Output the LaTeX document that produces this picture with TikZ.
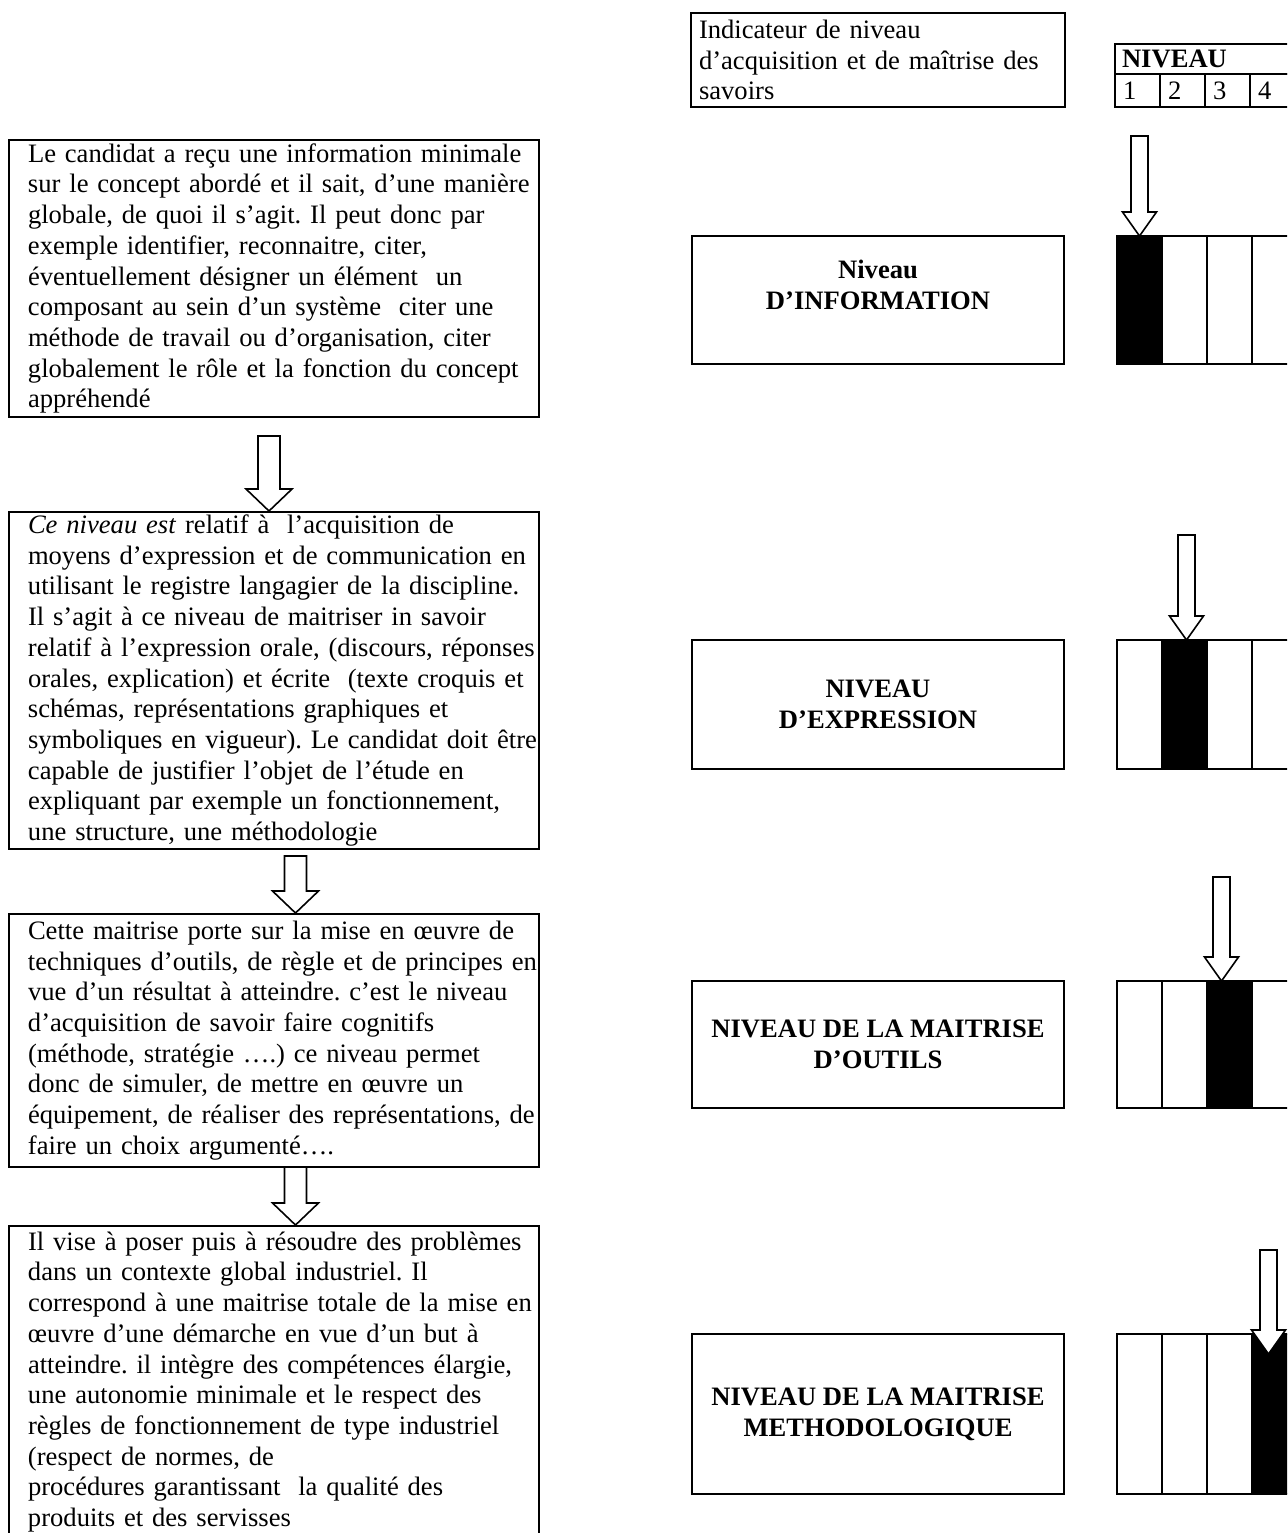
\documentclass[tikz,border=0pt]{standalone}
\usepackage{fontspec}
\setmainfont{Liberation Serif}
\usepackage{tikz}
\usetikzlibrary{positioning}
\tikzstyle{leftbox} = [rectangle, draw=black, line width=1pt, text width=265pt, inner xsep=0pt, inner ysep=1pt, align=left, execute at begin node={\leftskip=9.5pt\rightskip=-8pt plus 2em}]
\tikzstyle{levelbox} = [rectangle, draw=black, line width=1pt, minimum width=186pt, align=center, font=\fontsize{13.3}{15.35}\selectfont\bfseries]
\tikzstyle{titlebox} = [rectangle, draw=black, line width=1pt, text width=179pt, inner xsep=4pt, inner ysep=1pt, minimum height=47pt, align=left]
\tikzstyle{headcell} = [rectangle, draw=black, line width=1pt, minimum height=15pt, text width=83pt, inner xsep=3.5pt, inner ysep=0pt, outer sep=0pt, align=left, font=\fontsize{13.3}{15.35}\selectfont\bfseries]
\tikzstyle{numcell} = [rectangle, draw=black, line width=1pt, minimum height=16.5pt, text width=14.5pt, inner xsep=4pt, inner ysep=0pt, outer sep=0pt, align=left]
\tikzstyle{cell} = [rectangle, draw=black, line width=1pt, minimum width=22.5pt, inner sep=0pt, outer sep=0pt]
\tikzstyle{bigarrow} = [draw=black, fill=white, line width=0.8pt, line join=miter]

\begin{document}
\frenchspacing
\begin{tikzpicture}[x=1pt, y=1pt, font=\fontsize{13.3}{15.35}\selectfont]
	\useasboundingbox (0,0) rectangle (643.5,-766.5);
	\clip (0,0) rectangle (643.5,-766.5);
	% left column
	\node (l1) [leftbox, minimum height=138.5pt, anchor=north west] at (4,-69.5) {Le candidat a reçu une information minimale\\sur le concept abordé et il sait, d’une manière\\globale, de quoi il s’agit. Il peut donc par\\exemple identifier, reconnaitre, citer,\\éventuellement désigner un élément\ \ un\\composant au sein d’un système\ \ citer une\\méthode de travail ou d’organisation, citer\\globalement le rôle et la fonction du concept\\appréhendé};
	\node (l2) [leftbox, minimum height=168.5pt, below=46.5pt of l1] {\textit{Ce niveau est} relatif à\ \ l’acquisition de\\moyens d’expression et de communication en\\utilisant le registre langagier de la discipline.\\Il s’agit à ce niveau de maitriser in savoir\\relatif à l’expression orale, (discours, réponses\\orales, explication) et écrite\ \ (texte croquis et\\schémas, représentations graphiques et\\symboliques en vigueur). Le candidat doit être\\capable de justifier l’objet de l’étude en\\expliquant par exemple un fonctionnement,\\une structure, une méthodologie};
	\node (l3) [leftbox, minimum height=126.5pt, below=31.5pt of l2] {Cette maitrise porte sur la mise en œuvre de\\techniques d’outils, de règle et de principes en\\vue d’un résultat à atteindre. c’est le niveau\\d’acquisition de savoir faire cognitifs\\(méthode, stratégie ….) ce niveau permet\\donc de simuler, de mettre en œuvre un\\équipement, de réaliser des représentations, de\\faire un choix argumenté….};
	\node (l4) [leftbox, minimum height=156pt, below=28.5pt of l3] {Il vise à poser puis à résoudre des problèmes\\dans un contexte global industriel. Il\\correspond à une maitrise totale de la mise en\\œuvre d’une démarche en vue d’un but à\\atteindre. il intègre des compétences élargie,\\une autonomie minimale et le respect des\\règles de fonctionnement de type industriel\\(respect de normes, de\\procédures garantissant\ \ la qualité des\\produits et des servisses};
	% middle column
	\node (ind) [titlebox, anchor=north west] at (345,-6) {Indicateur de niveau\\d’acquisition et de maîtrise des\\savoirs};
	\node (m1) [levelbox, minimum height=64pt, anchor=north west] at (345.5,-117.5) {Niveau\\D’INFORMATION\\\mbox{}};
	\node (m2) [levelbox, minimum height=64.5pt, below=137pt of m1] {NIVEAU\\D’EXPRESSION};
	\node (m3) [levelbox, minimum height=63.5pt, below=105pt of m2] {NIVEAU DE LA MAITRISE\\D’OUTILS};
	\node (m4) [levelbox, minimum height=80pt, below=112pt of m3] {NIVEAU DE LA MAITRISE\\METHODOLOGIQUE};
	% niveau table
	\node (th) [headcell, anchor=north west] at (557.5,-22) {NIVEAU};
	\node (n1) [numcell, below right=0pt of th.south west] {1};
	\node (n2) [numcell, right=0pt of n1] {2};
	\node (n3) [numcell, right=0pt of n2] {3};
	\node (n4) [numcell, right=0pt of n3] {4};
	% bars
	\node (b1a) [cell, minimum height=64pt, fill=black, right=26pt of m1] {};
	\node (b1b) [cell, minimum height=64pt, right=0pt of b1a] {};
	\node (b1c) [cell, minimum height=64pt, right=0pt of b1b] {};
	\node (b1d) [cell, minimum height=64pt, right=0pt of b1c] {};
	\node (b2a) [cell, minimum height=64.5pt, right=26pt of m2] {};
	\node (b2b) [cell, minimum height=64.5pt, fill=black, right=0pt of b2a] {};
	\node (b2c) [cell, minimum height=64.5pt, right=0pt of b2b] {};
	\node (b2d) [cell, minimum height=64.5pt, right=0pt of b2c] {};
	\node (b3a) [cell, minimum height=63.5pt, right=26pt of m3] {};
	\node (b3b) [cell, minimum height=63.5pt, right=0pt of b3a] {};
	\node (b3c) [cell, minimum height=63.5pt, fill=black, right=0pt of b3b] {};
	\node (b3d) [cell, minimum height=63.5pt, right=0pt of b3c] {};
	\node (b4a) [cell, minimum height=80pt, right=26pt of m4] {};
	\node (b4b) [cell, minimum height=80pt, right=0pt of b4a] {};
	\node (b4c) [cell, minimum height=80pt, right=0pt of b4b] {};
	\node (b4d) [cell, minimum height=80pt, fill=black, right=0pt of b4c] {};
	% block arrows
	\draw [bigarrow] ([xshift=-2.5pt]l2.north) -- ++(-11.5,11) -- ++(6,0) -- ++(0,26.5) -- ++(11,0) -- ++(0,-26.5) -- ++(6,0) -- cycle;
	\draw [bigarrow] ([xshift=10.75pt]l3.north) -- ++(-11.5,11) -- ++(6,0) -- ++(0,17.5) -- ++(11,0) -- ++(0,-17.5) -- ++(6,0) -- cycle;
	\draw [bigarrow] ([xshift=10.75pt]l4.north) -- ++(-11.5,11) -- ++(6,0) -- ++(0,18) -- ++(11,0) -- ++(0,-18) -- ++(6,0) -- cycle;
	\draw [bigarrow] (b1a.north) -- ++(-8.5,12) -- ++(4.25,0) -- ++(0,38) -- ++(8.5,0) -- ++(0,-38) -- ++(4.25,0) -- cycle;
	\draw [bigarrow] ([xshift=1pt]b2b.north) -- ++(-8.5,12) -- ++(4.25,0) -- ++(0,40.5) -- ++(8.5,0) -- ++(0,-40.5) -- ++(4.25,0) -- cycle;
	\draw [bigarrow] ([xshift=-4pt]b3c.north) -- ++(-8.5,12) -- ++(4.25,0) -- ++(0,40) -- ++(8.5,0) -- ++(0,-40) -- ++(4.25,0) -- cycle;
	\draw [bigarrow] ([xshift=-3pt,yshift=-10pt]b4d.north) -- ++(-8.5,12) -- ++(4.25,0) -- ++(0,40) -- ++(8.5,0) -- ++(0,-40) -- ++(4.25,0) -- cycle;
\end{tikzpicture}
\end{document}
